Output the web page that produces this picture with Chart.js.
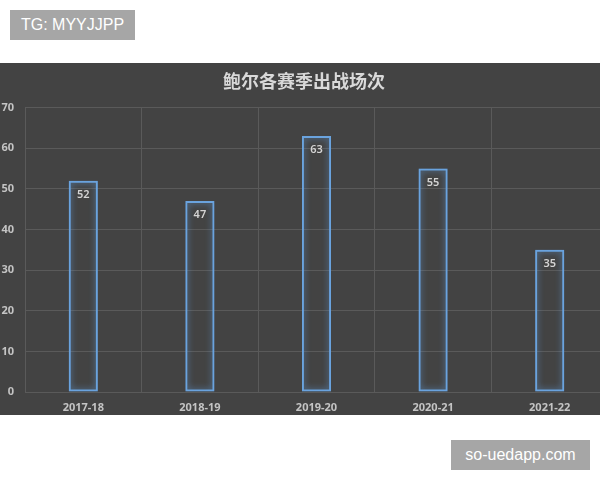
<!DOCTYPE html>
<html>
<head>
<meta charset="utf-8">
<script src="https://cdn.jsdelivr.net/npm/chart.js@4.4.1/dist/chart.umd.min.js"></script>
<style>
  html, body { margin: 0; padding: 0; background: #ffffff; width: 600px; height: 480px; overflow: hidden; }
  .tag { position: absolute; background: #a6a6a6; color: #ffffff; font-family: "Liberation Sans", Arial, sans-serif; font-size: 16px; line-height: 30px; text-align: center; }
  #tg { left: 10px; top: 10px; width: 125px; height: 30px; }
  #wm { left: 451px; top: 440px; width: 139px; height: 30px; }
  #panel { position: absolute; left: 0; top: 63px; width: 600px; height: 352px; background: #434343; overflow: hidden; }
  #wrap { position: absolute; left: 0; top: 0; width: 608px; height: 352px; }
</style>
</head>
<body>
<div id="tg" class="tag">TG: MYYJJPP</div>
<div id="panel"><div id="wrap"><canvas id="c"></canvas></div></div>
<div id="wm" class="tag">so-uedapp.com</div>
<script>
const chartTitle = '鲍尔各赛季出战场次';
const seasons = ['2017-18', '2018-19', '2019-20', '2020-21', '2021-22'];
const games = [52, 47, 63, 55, 35];
const yMin = 0, yMax = 70, yStep = 10;

const glowPlugin = {
  id: 'glow',
  beforeDatasetsDraw(chart) {
    const ctx = chart.ctx;
    ctx.save();
    ctx.shadowColor = 'rgba(100,160,225,0.85)';
    ctx.shadowBlur = 6;
  },
  afterDatasetsDraw(chart) {
    chart.ctx.restore();
    const ctx = chart.ctx;
    const meta = chart.getDatasetMeta(0);
    ctx.save();
    ctx.fillStyle = '#d4d4d4';
    ctx.font = '600 11px "Noto Sans", "DejaVu Sans", sans-serif';
    ctx.textAlign = 'center';
    ctx.textBaseline = 'middle';
    meta.data.forEach((bar, i) => {
      ctx.fillText(String(games[i]), bar.x, bar.y + 14);
    });
    ctx.restore();
  }
};

new Chart(document.getElementById('c'), {
  type: 'bar',
  data: {
    labels: seasons,
    datasets: [{
      data: games,
      backgroundColor: 'rgba(67,67,67,0)',
      borderColor: '#6aa3de',
      borderWidth: 2,
      borderSkipped: false,
      barPercentage: 0.5,
      categoryPercentage: 0.5
    }]
  },
  options: {
    responsive: true,
    maintainAspectRatio: false,
    animation: false,
    layout: { padding: { top: 0, left: 0, right: 0, bottom: 0 } },
    plugins: {
      legend: { display: false },
      tooltip: { enabled: false },
      title: {
        display: true,
        text: chartTitle,
        color: '#d9d9d9',
        font: { family: '"Noto Sans CJK SC", sans-serif', size: 18, weight: 'bold' },
        padding: { top: 7, bottom: 16 }
      }
    },
    scales: {
      x: {
        grid: { color: '#5a5a5a', lineWidth: 1, drawTicks: false, offset: true },
        border: { display: true, color: '#5a5a5a' },
        ticks: {
          color: '#c4c4c4',
          padding: 9,
          font: { family: '"Noto Sans", "DejaVu Sans", sans-serif', size: 11, weight: 'bold' }
        },
        afterFit(scale) { scale.height = 23; }
      },
      y: {
        min: yMin,
        max: yMax,
        grid: { color: '#5a5a5a', lineWidth: 1, drawTicks: false },
        border: { display: true, color: '#5a5a5a' },
        ticks: {
          stepSize: yStep,
          color: '#c4c4c4',
          padding: 11,
          font: { family: '"Noto Sans", "DejaVu Sans", sans-serif', size: 11, weight: 'bold' }
        },
        afterFit(scale) { scale.width = 25; }
      }
    }
  },
  plugins: [glowPlugin]
});
</script>
</body>
</html>
